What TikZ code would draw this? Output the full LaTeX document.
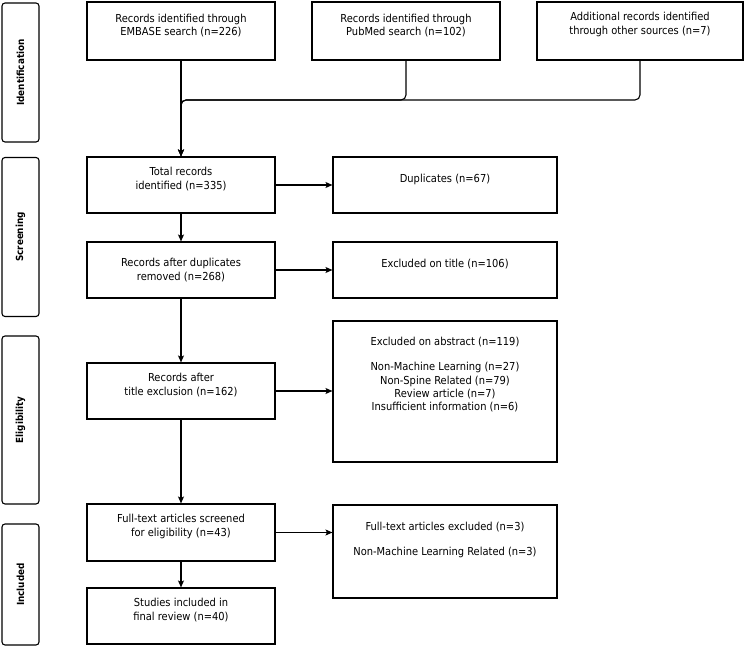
\documentclass[tikz,border=0pt]{standalone}
\usepackage{fontspec}
\setmainfont{DejaVu Sans Condensed}
\usetikzlibrary{arrows.meta,calc}
\begin{document}
\begin{tikzpicture}[x=1pt,y=-1pt,
 box/.style={draw, line width=1.1pt, minimum width=188pt, minimum height=56pt, inner sep=0pt},
 rbox/.style={draw, line width=1.1pt, minimum width=224pt, minimum height=56pt, inner sep=0pt},
 side/.style={draw, line width=1.1pt, rounded corners=3pt, inner sep=0pt, minimum width=37pt},
 txt/.style={align=center, font=\fontsize{11}{13.3}\selectfont, inner sep=0pt},
 lbl/.style={rotate=90, inner sep=0pt, font=\bfseries\fontsize{9.8}{11}\selectfont},
 arr/.style={draw, line width=1.1pt, -{Stealth[length=7pt,width=6pt,inset=1.5pt]}},
 ]
\useasboundingbox (0,0) rectangle (745,647);
% side phase boxes
\node[side, minimum height=139pt] (sid) at (20.5,72.5) {};
\node[side, minimum height=159pt] (sscr) at (20.5,237) {};
\node[side, minimum height=168pt] (selg) at (20.5,420) {};
\node[side, minimum height=121pt] (sinc) at (20.5,584.5) {};
\node[lbl] (lid) at (sid) {Identification};
\node[lbl] (lscr) at (sscr) {Screening};
\node[lbl] (lelg) at (selg) {Eligibility};
\node[lbl] (linc) at (sinc) {Included};
% main boxes
\node[box, minimum height=58pt] (emb) at (181,31) {};
\node[box, minimum height=58pt] (pub) at (406,31) {};
\node[box, minimum height=58pt, minimum width=206pt] (add) at (640,31) {};
\node[box] (total) at (181,185) {};
\node[rbox] (dup) at (445,185) {};
\node[box] (rad) at (181,270) {};
\node[rbox] (exti) at (445,270) {};
\node[box] (rte) at (181,391) {};
\node[rbox, minimum height=141pt] (exab) at (445,391.5) {};
\node[box, minimum height=57pt] (fts) at (181,532.5) {};
\node[rbox, minimum height=93pt] (ftex) at (445,551.5) {};
\node[box] (stud) at (181,616) {};
% texts
\node[txt] (temb) at (181,25.5) {Records identified through\\EMBASE search (n=226)};
\node[txt] (tpub) at (406,25.5) {Records identified through\\PubMed search (n=102)};
\node[txt] (tadd) at (640,24.5) {Additional records identified\\through other sources (n=7)};
\node[txt] (ttot) at (181,179) {Total records\\identified (n=335)};
\node[txt] (tdup) at (445,179) {Duplicates (n=67)};
\node[txt] (trad) at (181,270) {Records after duplicates\\removed (n=268)};
\node[txt] (texti) at (445,264) {Excluded on title (n=106)};
\node[txt] (trte) at (181,385) {Records after\\title exclusion (n=162)};
\node[txt] (texab) at (445,374.5) {Excluded on abstract (n=119)\\[12.5pt]Non-Machine Learning (n=27)\\Non-Spine Related (n=79)\\Review article (n=7)\\Insufficient information (n=6)};
\node[txt] (tfts) at (181,526.5) {Full-text articles screened\\for eligibility (n=43)};
\node[txt] (tftex) at (445,539.5) {Full-text articles excluded (n=3)\\[11.7pt]Non-Machine Learning Related (n=3)};
\node[txt] (tstud) at (181,610) {Studies included in\\final review (n=40)};
% connectors
\coordinate (m) at (181,100);
\draw[arr] (emb.south) -- (total.north);
\draw[arr, rounded corners=5pt] (pub.south) |- (m) -- (total.north);
\draw[arr, rounded corners=5pt] (add.south) |- (m) -- (total.north);
\draw[arr] (total) -- (dup);
\draw[arr] (total) -- (rad);
\draw[arr] (rad) -- (exti);
\draw[arr] (rad) -- (rte);
\draw[arr] (rte.east) -- (rte.east -| exab.west);
\draw[arr] (rte) -- (fts);
\draw[arr] (fts.east) -- (fts.east -| ftex.west);
\draw[arr] (fts) -- (stud);
\end{tikzpicture}
\end{document}
